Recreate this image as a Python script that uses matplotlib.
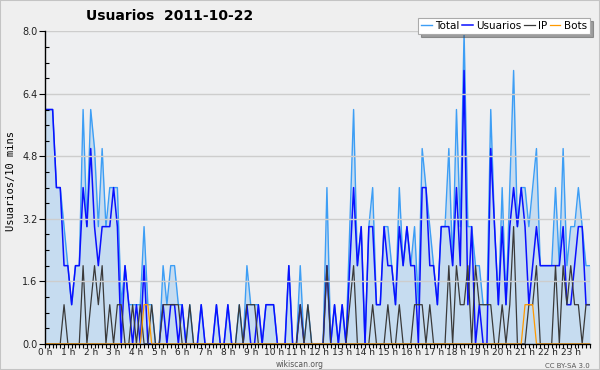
import numpy as np
import matplotlib
matplotlib.use('Agg')
import matplotlib.pyplot as plt
from matplotlib.ticker import MultipleLocator, FormatStrFormatter
from matplotlib.patches import Rectangle

# valores cada 10 minutos (144 puntos)
usuarios = [6, 6, 6, 4, 4, 2, 2, 1, 2, 2, 4, 3, 5, 3, 2, 3, 3, 3, 4, 3,
            0, 2, 1, 0, 1, 0, 2, 0, 0, 0, 0, 1, 0, 1, 1, 0, 1, 0, 0, 0,
            0, 1, 0, 0, 0, 1, 0, 0, 1, 0, 0, 0, 0, 1, 0, 0, 1, 0, 1, 1,
            1, 0, 0, 0, 2, 0, 0, 1, 0, 0, 0, 0, 0, 0, 2, 0, 1, 0, 1, 0,
            2, 4, 2, 3, 0, 3, 3, 1, 1, 3, 2, 2, 1, 3, 2, 3, 2, 2, 0, 4,
            4, 2, 2, 1, 3, 3, 3, 2, 4, 2, 7, 1, 3, 0, 1, 0, 0, 5, 3, 1,
            3, 1, 3, 4, 3, 4, 3, 1, 2, 3, 2, 2, 2, 2, 2, 2, 3, 1, 1, 2,
            3, 3, 1, 1]
ip = [0, 0, 0, 0, 0, 1, 0, 0, 0, 0, 2, 0, 1, 2, 1, 2, 0, 1, 0, 1,
      1, 0, 0, 1, 0, 1, 0, 0, 1, 0, 0, 1, 1, 1, 1, 1, 0, 0, 1, 0,
      0, 0, 0, 0, 0, 0, 0, 0, 0, 0, 0, 1, 0, 1, 1, 1, 0, 0, 0, 0,
      0, 0, 0, 0, 0, 0, 0, 1, 0, 1, 0, 0, 0, 0, 2, 0, 0, 0, 0, 0,
      1, 2, 0, 0, 0, 0, 1, 0, 0, 0, 1, 0, 0, 1, 0, 0, 0, 1, 1, 1,
      0, 1, 0, 0, 0, 0, 2, 0, 2, 1, 1, 2, 0, 2, 1, 1, 1, 1, 0, 0,
      1, 0, 1, 3, 0, 0, 0, 1, 1, 2, 0, 0, 0, 0, 2, 0, 2, 1, 2, 1,
      1, 0, 1, 1]
bots = [0, 0, 0, 0, 0, 0, 0, 0, 0, 0, 0, 0, 0, 0, 0, 0, 0, 0, 0, 0,
        0, 0, 0, 0, 0, 0, 1, 1, 0, 0, 0, 0, 0, 0, 0, 0, 0, 0, 0, 0,
        0, 0, 0, 0, 0, 0, 0, 0, 0, 0, 0, 0, 0, 0, 0, 0, 0, 0, 0, 0,
        0, 0, 0, 0, 0, 0, 0, 0, 0, 0, 0, 0, 0, 0, 0, 0, 0, 0, 0, 0,
        0, 0, 0, 0, 0, 0, 0, 0, 0, 0, 0, 0, 0, 0, 0, 0, 0, 0, 0, 0,
        0, 0, 0, 0, 0, 0, 0, 0, 0, 0, 0, 0, 0, 0, 0, 0, 0, 0, 0, 0,
        0, 0, 0, 0, 0, 0, 1, 1, 1, 0, 0, 0, 0, 0, 0, 0, 0, 0, 0, 0,
        0, 0, 0, 0]
total = [6, 6, 6, 4, 4, 3, 2, 1, 2, 2, 6, 3, 6, 5, 3, 5, 3, 4, 4, 4,
         1, 2, 1, 1, 1, 1, 3, 1, 1, 0, 0, 2, 1, 2, 2, 1, 1, 0, 1, 0,
         0, 1, 0, 0, 0, 1, 0, 0, 1, 0, 0, 1, 0, 2, 1, 1, 1, 0, 1, 1,
         1, 0, 0, 0, 2, 0, 0, 2, 0, 1, 0, 0, 0, 0, 4, 0, 1, 0, 1, 0,
         3, 6, 2, 3, 0, 3, 4, 1, 1, 3, 3, 2, 1, 4, 2, 3, 2, 3, 1, 5,
         4, 3, 2, 1, 3, 3, 5, 2, 6, 3, 8, 3, 3, 2, 2, 1, 1, 6, 3, 1,
         4, 1, 4, 7, 3, 4, 4, 3, 4, 5, 2, 2, 2, 2, 4, 2, 5, 2, 3, 3,
         4, 3, 2, 2]
horas = [f'{h} h' for h in range(24)]

x = np.arange(len(total))

fig = plt.figure(figsize=(6, 3.7), dpi=100)
fig.patch.set_facecolor('#efefef')
fig.patches.append(Rectangle((0, 0), 1, 1, transform=fig.transFigure,
                             fill=False, edgecolor='#c4c4c4', lw=1.5))

ax = fig.add_axes([0.075, 0.071, 0.908, 0.844])
ax.set_facecolor('#eeeff1')

ax.fill_between(x, total, color='#c6dcf0', lw=0)
l1, = ax.plot(x, total, color='#3d9ef5', lw=1.0, label='Total')
l2, = ax.plot(x, usuarios, color='#0a10ff', lw=1.1, label='Usuarios')
l3, = ax.plot(x, ip, color='#3a3a3a', lw=0.9, label='IP')
l4, = ax.plot(x, bots, color='#ff9a00', lw=0.9, label='Bots')

ax.set_xlim(0, len(total) - 1)
ax.set_ylim(0, 8)

ax.yaxis.set_major_locator(MultipleLocator(1.6))
ax.yaxis.set_minor_locator(MultipleLocator(0.4))
ax.yaxis.set_major_formatter(FormatStrFormatter('%.1f'))
ax.set_xticks(np.arange(0, 144, 6))
ax.set_xticklabels(horas)
ax.xaxis.set_minor_locator(MultipleLocator(1))

ax.tick_params(axis='y', which='major', labelsize=7, length=4, width=0.8,
               color='black', labelcolor='#222222', pad=1.5)
ax.tick_params(axis='x', which='major', labelsize=6.5, length=3, width=0.8,
               color='black', labelcolor='#222222', pad=0)
ax.tick_params(axis='y', which='minor', length=3, width=0.8, direction='in')
ax.tick_params(axis='x', which='minor', length=3, width=0.8)

ax.yaxis.grid(True, color='#cdcdcd', lw=1)
ax.set_axisbelow(False)
for s in ['top', 'right']:
    ax.spines[s].set_visible(False)
for s in ['left', 'bottom']:
    ax.spines[s].set_linewidth(1)
    ax.spines[s].set_zorder(5)

fig.text(0.143, 0.957, 'Usuarios  2011-10-22', fontsize=10, fontweight='bold',
         va='center', ha='left')
fig.text(0.018, 0.51, 'Usuarios/10 mins', rotation=90, ha='center',
         va='center', family='DejaVu Sans Mono', fontsize=7.5)
fig.text(0.5, 0.003, 'wikiscan.org', ha='center', va='bottom',
         fontsize=5.5, color='#555555')
fig.text(0.983, 0.003, 'CC BY-SA 3.0', ha='right', va='bottom',
         fontsize=5, color='#555555')

leg = ax.legend(handles=[l1, l2, l3, l4], ncol=4, loc='upper right',
                bbox_to_anchor=(0.983, 0.952), bbox_transform=fig.transFigure,
                fontsize=7.5, frameon=True, fancybox=False, shadow=True,
                handlelength=1.0, columnspacing=0.3, handletextpad=0.3,
                borderpad=0.3, borderaxespad=0)
leg.get_frame().set_edgecolor('#aaaaaa')
leg.get_frame().set_linewidth(0.8)

fig.savefig('out.png', dpi=100, facecolor=fig.get_facecolor())
